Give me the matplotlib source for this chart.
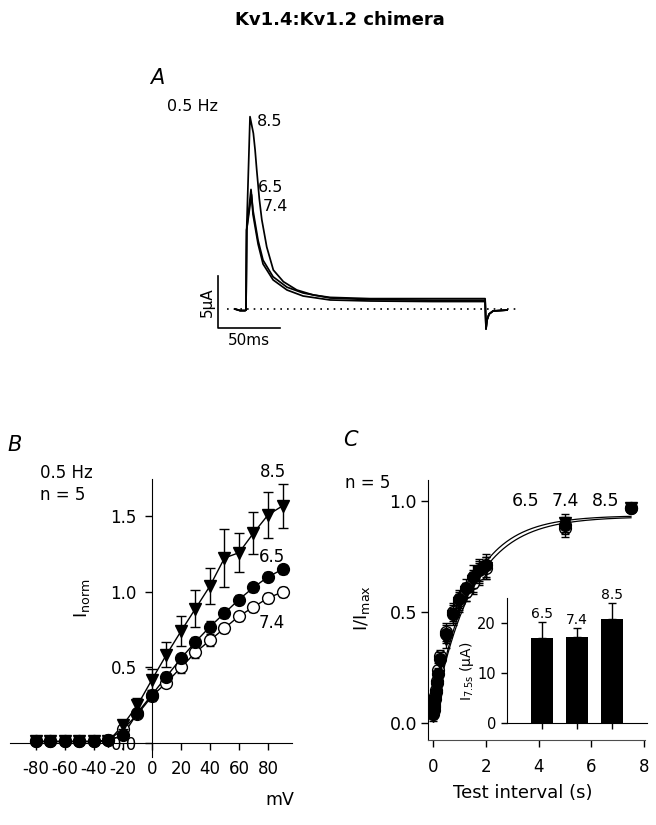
import numpy as np
import matplotlib
matplotlib.use("Agg")
import matplotlib.pyplot as plt

plt.rcParams['font.family'] = ['DejaVu Sans']
plt.rcParams['axes.unicode_minus'] = False

W, H = 656, 825

# ---- panel A: current traces (ms, uA)
pre_t = [-8.9, -4.8, -0.8, 0.0, 0.5]
pre_i = [0.0, -0.15, -0.15, -0.1, 7.6]
tail_t = [193.4, 194.2, 195.9, 199.1, 210.4]
tail_i = [-1.92, -1.06, -0.48, -0.19, -0.1]

tr85_t = [3.2, 5.9, 7.3, 8.6, 10.7, 12.7, 16.7, 22.0, 30.1, 40.9, 54.2, 67.7, 100, 150, 192.7]
tr85_i = [18.5, 16.9, 15.3, 13.4, 10.6, 8.6, 5.96, 3.75, 2.63, 1.83, 1.35, 1.12, 1.0, 1.0, 1.0]
tr65_t = [4.0, 5.6, 9.7, 13.7, 21.8, 33.0, 46.0, 67.7, 100, 150, 192.7]
tr65_i = [11.5, 9.5, 6.6, 4.7, 3.1, 2.1, 1.54, 1.06, 0.9, 0.85, 0.85]
tr74_t = [4.4, 5.6, 9.7, 13.7, 21.8, 33.0, 46.0, 67.7, 100, 150, 192.7]
tr74_i = [11.0, 9.1, 6.25, 4.33, 2.8, 1.83, 1.25, 0.87, 0.77, 0.72, 0.72]

# ---- panel B: I-V
volts = [-80, -70, -60, -50, -40, -30, -20, -10, 0, 10, 20, 30, 40, 50, 60, 70, 80, 90]
iv85 = [0.01, 0.01, 0.01, 0.01, 0.01, 0.01, 0.12, 0.25, 0.42, 0.585, 0.74, 0.89, 1.04, 1.225, 1.26, 1.39, 1.51, 1.57]
iv85_err = [0, 0, 0, 0, 0, 0, 0.03, 0.05, 0.07, 0.085, 0.10, 0.12, 0.12, 0.19, 0.13, 0.14, 0.155, 0.145]
iv65 = [0.01, 0.01, 0.01, 0.01, 0.01, 0.02, 0.05, 0.20, 0.32, 0.44, 0.56, 0.67, 0.77, 0.86, 0.95, 1.03, 1.10, 1.15]
iv65_err = [0, 0, 0, 0, 0, 0, 0.02, 0.02, 0.03, 0.03, 0.03, 0.035, 0.035, 0.035, 0.03, 0.03, 0.03, 0.03]
iv74 = [0.01, 0.01, 0.01, 0.01, 0.01, 0.02, 0.09, 0.19, 0.31, 0.40, 0.50, 0.60, 0.68, 0.76, 0.84, 0.90, 0.96, 1.00]
iv74_err = [0, 0, 0, 0, 0, 0, 0.02, 0.02, 0.03, 0.03, 0.035, 0.04, 0.04, 0.03, 0.03, 0.03, 0.03, 0.03]

# ---- panel C: recovery
t_rec = [0.01, 0.025, 0.05, 0.075, 0.1, 0.15, 0.2, 0.25, 0.5, 0.75, 1.0, 1.25, 1.5, 1.75, 2.0, 5.0, 7.5]
rec85 = [0.03, 0.05, 0.07, 0.10, 0.12, 0.16, 0.20, 0.27, 0.38, 0.48, 0.54, 0.59, 0.64, 0.68, 0.70, 0.90, 0.97]
rec65 = [0.04, 0.06, 0.08, 0.11, 0.14, 0.18, 0.22, 0.29, 0.40, 0.49, 0.56, 0.61, 0.66, 0.69, 0.71, 0.89, 0.97]
rec74 = [0.05, 0.07, 0.09, 0.12, 0.15, 0.19, 0.24, 0.30, 0.41, 0.50, 0.55, 0.59, 0.63, 0.67, 0.70, 0.88, 0.97]
rec_err = [0.02, 0.02, 0.02, 0.02, 0.03, 0.03, 0.03, 0.03, 0.04, 0.04, 0.04, 0.04, 0.05, 0.05, 0.05, 0.04, 0.01]
# single exponential fits: (offset, amplitude, tau in s)
fits = [(0.02, 0.91, 1.45), (0.02, 0.915, 1.36)]

# inset bars
ph_labels = ['6.5', '7.4', '8.5']
i75 = [17.0, 17.2, 20.8]
i75_err = [3.2, 1.8, 3.2]


def add_ax(fig, l, t, r, b):
    return fig.add_axes([l / W, 1 - b / H, (r - l) / W, (b - t) / H])


fig = plt.figure(figsize=(W / 100, H / 100), dpi=100)
fig.text(340 / W, 1 - 20 / H, "Kv1.4:Kv1.2 chimera", ha='center', va='center',
         fontsize=13, fontweight='bold')

# ================= A
axA = add_ax(fig, 200, 100, 520, 345)
axA.set_xlim(-37.1, 220.8)
axA.set_ylim(-3.46, 20.1)
axA.axis('off')
for tt, ii in [(tr85_t, tr85_i), (tr65_t, tr65_i), (tr74_t, tr74_i)]:
    axA.plot(pre_t + tt + tail_t, pre_i + ii + tail_i, color='black', lw=1.25)
axA.plot([-15.3, 218.4], [0, 0], color='black', lw=1.2, ls=(0, (1, 3)))
# scale bars
axA.plot([-22.6, -22.6, 27.4], [3.2, -1.8, -1.8], color='black', lw=1.2)
axA.text(-31.4, 0.7, "5\u00b5A", rotation=90, ha='center', va='center', fontsize=11)
axA.text(2.4, -3.0, "50ms", ha='center', va='center', fontsize=11)
axA.text(-77.4, 22.2, "A", fontsize=15, style='italic', ha='left', va='center')
axA.text(-63.7, 19.5, "0.5 Hz", fontsize=11.5, ha='left', va='center')
axA.text(8.9, 18.0, "8.5", fontsize=11.5, ha='left', va='center')
axA.text(9.7, 11.7, "6.5", fontsize=11.5, ha='left', va='center')
axA.text(13.7, 9.9, "7.4", fontsize=11.5, ha='left', va='center')

# ================= B
axB = add_ax(fig, 10, 479, 292, 757)
axB.set_xlim(-97.9, 96.55)
axB.set_ylim(-0.0927, 1.748)
for s in ['top', 'right']:
    axB.spines[s].set_visible(False)
axB.spines['left'].set_position(('data', 0))
axB.spines['bottom'].set_position(('data', 0))
axB.patch.set_alpha(0)
axB.set_xticks(range(-80, 81, 20))
axB.set_yticks([0, 0.5, 1.0, 1.5])
axB.set_yticklabels(['0.0', '0.5', '1.0', '1.5'])
axB.tick_params(axis='x', direction='out', length=5, width=1, pad=7, labelsize=12)
axB.tick_params(axis='y', direction='out', length=5, width=1, pad=6, labelsize=12)
axB.plot(volts, iv74, color='black', lw=1)
axB.plot(volts, iv65, color='black', lw=1)
axB.plot(volts, iv85, color='black', lw=1)
axB.errorbar(volts, iv74, yerr=iv74_err, fmt='o', ms=8.5, mfc='white', mec='black',
             ecolor='black', elinewidth=1, capsize=3, color='black', zorder=3)
axB.errorbar(volts, iv65, yerr=iv65_err, fmt='o', ms=8.5, mfc='black', mec='black',
             ecolor='black', elinewidth=1, capsize=3, color='black', zorder=4)
axB.errorbar(volts, iv85, yerr=iv85_err, fmt='v', ms=8.5, mfc='black', mec='black',
             ecolor='black', elinewidth=1, capsize=3.5, color='black', zorder=5)
axB.text(-100, 1.97, "B", fontsize=15, style='italic', ha='left', va='center')
axB.text(-77.2, 1.79, "0.5 Hz", fontsize=12, ha='left', va='center')
axB.text(-77.2, 1.64, "n = 5", fontsize=12, ha='left', va='center')
axB.text(83.4, 1.795, "8.5", fontsize=12, ha='center', va='center')
axB.text(82.8, 1.23, "6.5", fontsize=12, ha='center', va='center')
axB.text(82.8, 0.795, "7.4", fontsize=12, ha='center', va='center')
axB.text(88.3, -0.377, "mV", fontsize=12.5, ha='center', va='center')
axB.text(-48, 0.96, r"$\mathregular{I_{norm}}$", rotation=90, fontsize=13,
         ha='center', va='center')

# ================= C
axC = add_ax(fig, 428, 480, 645, 740)
axC.set_xlim(-0.189, 8.03)
axC.set_ylim(-0.0766, 1.095)
for s in ['top', 'right']:
    axC.spines[s].set_visible(False)
axC.spines['bottom'].set_color('0.3')
axC.spines['bottom'].set_linewidth(0.8)
axC.set_xticks([0, 2, 4, 6, 8])
axC.set_yticks([0, 0.5, 1.0])
axC.set_yticklabels(['0.0', '0.5', '1.0'])
axC.tick_params(axis='x', direction='out', length=5, width=1, pad=8, labelsize=12)
axC.tick_params(axis='y', direction='out', length=5, width=1, pad=3, labelsize=12.5)
tfit = np.linspace(0, 7.5, 200)
for y0, amp, tau in fits:
    axC.plot(tfit, y0 + amp * (1 - np.exp(-tfit / tau)), color='black', lw=0.9)
axC.errorbar(t_rec, rec74, yerr=rec_err, fmt='o', ms=8.5, mfc='white', mec='black',
             ecolor='black', elinewidth=1, capsize=3, zorder=3)
axC.errorbar(t_rec, rec65, yerr=rec_err, fmt='o', ms=8.5, mfc='black', mec='black',
             ecolor='black', elinewidth=1, capsize=3, zorder=4)
axC.errorbar(t_rec, rec85, yerr=rec_err, fmt='v', ms=8.5, mfc='black', mec='black',
             ecolor='black', elinewidth=1, capsize=3, zorder=5)
axC.text(-3.4, 1.275, "C", fontsize=15, style='italic', ha='left', va='center')
axC.text(-3.33, 1.08, "n = 5", fontsize=12, ha='left', va='center')
axC.text(3.52, 1.0, "6.5", fontsize=12.5, ha='center', va='center')
axC.text(5.0, 1.0, "7.4", fontsize=12.5, ha='center', va='center')
axC.text(6.52, 1.0, "8.5", fontsize=12.5, ha='center', va='center')
axC.text(3.41, -0.315, "Test interval (s)", fontsize=13, ha='center', va='center')
axC.text(-2.69, 0.52, r"$\mathregular{I/I_{max}}$", rotation=90, fontsize=13,
         ha='center', va='center')

# inset
axI = add_ax(fig, 507, 598, 647, 723)
axI.set_xlim(0, 4)
axI.set_ylim(0, 25)
axI.patch.set_alpha(0)
for s in ['top', 'right']:
    axI.spines[s].set_visible(False)
pos = [1, 2, 3]
axI.bar(pos, i75, width=0.63, color='black')
axI.errorbar(pos, i75, yerr=[[0, 0, 0], i75_err], fmt='none', ecolor='black',
             elinewidth=1, capsize=3)
axI.set_xticks(pos)
axI.set_xticklabels([])
axI.set_yticks([0, 10, 20])
axI.tick_params(axis='x', direction='out', length=4, width=1)
axI.tick_params(axis='y', direction='out', length=4, width=1, pad=4, labelsize=10.5)
for p, v, e, lab in zip(pos, i75, i75_err, ph_labels):
    axI.text(p, v + e + 1.6, lab, fontsize=10, ha='center', va='center')
axI.text(-0.286, 0.41, "$\\mathregular{I_{7.5s}}$ (\u00b5A)", rotation=90, fontsize=10,
         ha='center', va='center', transform=axI.transAxes)

fig.savefig("out.png", dpi=100)
